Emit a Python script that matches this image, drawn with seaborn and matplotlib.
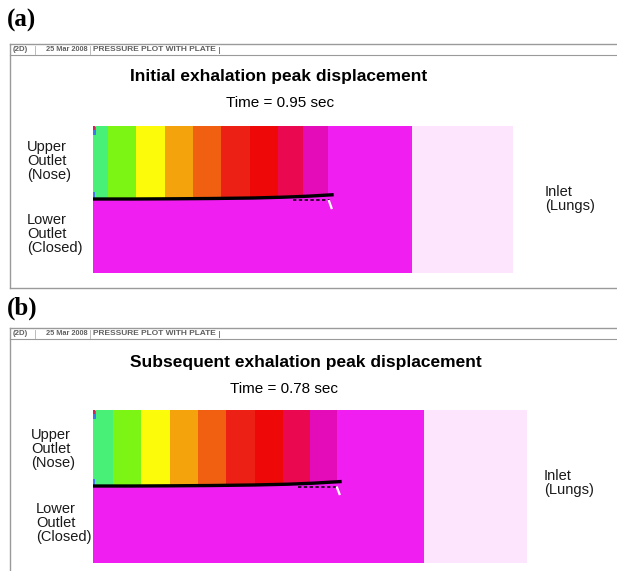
import numpy as np
import matplotlib
matplotlib.use("Agg")
import matplotlib.pyplot as plt
from matplotlib.colors import ListedColormap
import seaborn as sns

# ---- pressure band colours (low -> high), then free-stream magenta and inlet pink
band_colors = ["#48f078", "#7cf514", "#fbfb0a", "#f5a30c", "#f06010",
               "#ec2014", "#ee0808", "#ea0850", "#e40cb8"]
field_color = "#f01ef0"
inlet_color = "#fde6fd"
spot_colors = ["#3a7be8", "#d0205a"]

# ---- panel (a): initial exhalation, t = 0.95 s
title_a = "Initial exhalation peak displacement"
time_a = "Time = 0.95 sec"
band_edges_a = [0, 15, 43, 72, 100, 128, 157, 185, 210, 235]
field_end_a = 319
domain_len_a = 420
domain_h_a = 147
plate_x_a = [0, 40, 80, 120, 160, 190, 215, 239]
plate_y_a = [73.0, 73.0, 72.8, 72.5, 72.0, 71.2, 70.2, 68.8]
rest_x_a = [200, 237]
rest_y_a = [73.8, 73.8]
tip_x_a = [236.0, 238.5]
tip_y_a = [75.0, 82.0]

# ---- panel (b): subsequent exhalation, t = 0.78 s
title_b = "Subsequent exhalation peak displacement"
time_b = "Time = 0.78 sec"
band_edges_b = [0, 20, 48, 77, 105, 133, 162, 190, 217, 244]
field_end_b = 331
domain_len_b = 434
domain_h_b = 153
plate_x_b = [0, 40, 80, 120, 160, 195, 220, 247]
plate_y_b = [76.0, 76.0, 75.8, 75.5, 75.0, 74.2, 73.2, 71.6]
rest_x_b = [205, 244]
rest_y_b = [76.8, 76.8]
tip_x_b = [244.0, 246.5]
tip_y_b = [77.5, 84.0]

W, H = 617, 571
plt.rcParams["font.family"] = ["Liberation Sans", "DejaVu Sans"]
fig = plt.figure(figsize=(W / 100, H / 100), dpi=100)
fig.patch.set_facecolor("white")

# page-level axes in pixel units for frames and annotations
bg = fig.add_axes([0, 0, 1, 1])
bg.set_xlim(0, W)
bg.set_ylim(H, 0)
bg.axis("off")

palette = band_colors + [field_color, inlet_color] + spot_colors
IDX_FIELD = len(band_colors)
IDX_INLET = IDX_FIELD + 1
IDX_BLUE = IDX_FIELD + 2
IDX_RED = IDX_FIELD + 3
cmap = ListedColormap(palette)


def build_field(edges, field_end, length, height, px, py):
    grid = np.full((height, length), IDX_FIELD, dtype=float)
    cols = np.arange(length) + 0.5
    plate_row = np.interp(cols, px, py)
    for k in range(len(edges) - 1):
        for c in range(edges[k], edges[k + 1]):
            grid[: int(round(plate_row[c])), c] = k
    grid[:, field_end:] = IDX_INLET
    # small low-pressure spots at the upper outlet corner
    grid[1:9, 0:3] = IDX_BLUE
    grid[0:4, 0:2] = IDX_RED
    r = int(round(plate_row[0]))
    grid[r - 7:r, 0:2] = IDX_BLUE
    return grid


def draw_field(box, edges, field_end, length, height, px, py, rx, ry, tx, ty):
    x0, y0 = box
    x1, y1 = x0 + length, y0 + height
    ax = fig.add_axes([x0 / W, 1 - y1 / H, (x1 - x0) / W, (y1 - y0) / H])
    grid = build_field(edges, field_end, length, height, px, py)
    sns.heatmap(grid, cmap=cmap, vmin=-0.5, vmax=len(palette) - 0.5,
                cbar=False, xticklabels=False, yticklabels=False,
                linewidths=0, ax=ax)
    sns.lineplot(x=rx, y=ry, color="black", lw=1.1,
                 linestyle=(0, (2.2, 1.6)), ax=ax)
    sns.lineplot(x=px, y=py, color="black", lw=2.4, sort=False, ax=ax)
    sns.lineplot(x=tx, y=ty, color="white", lw=1.6, ax=ax)
    ax.set_xlim(0, length)
    ax.set_ylim(height, 0)
    ax.set_axis_off()
    return ax


def draw_frame(top, bottom, letter, letter_y):
    col = "#9a9a9a"
    bg.plot([10, W + 2], [top, top], color=col, lw=1.0)
    bg.plot([10, W + 2], [top + 11, top + 11], color=col, lw=0.8)
    bg.plot([10, 10], [top, bottom], color=col, lw=1.0)
    if bottom < H:
        bg.plot([10, W + 2], [bottom, bottom], color=col, lw=1.0)
    hy = top + 5.8
    hs = dict(fontweight="bold", color="#606060", va="center", ha="left")
    bg.text(13, hy, "(2D)", fontsize=5.6, **hs)
    bg.plot([35, 35], [top + 1.5, top + 9.5], color="#b0b0b0", lw=0.6)
    bg.text(46, hy, "25 Mar 2008", fontsize=5.3, **hs)
    bg.plot([90, 90], [top + 1.5, top + 9.5], color="#b0b0b0", lw=0.6)
    bg.text(93, hy, "PRESSURE PLOT WITH PLATE", fontsize=6.0, **hs)
    bg.plot([219, 219], [top + 2.5, top + 9], color="#777777", lw=0.7)
    bg.text(7, letter_y, letter, fontsize=18, fontweight="bold",
            family=["Liberation Serif", "DejaVu Serif"], va="center", ha="left")


lab = dict(fontsize=10.5, color="#1a1a1a", va="center", ha="left", linespacing=0.98)

# ---------------- panel (a)
draw_frame(44, 288, "(a)", 20)
bg.text(130, 77, title_a, fontsize=12.5, fontweight="bold", ha="left", va="center")
bg.text(280, 103, time_a, fontsize=11, ha="center", va="center")
bg.text(27, 161, "Upper\nOutlet\n(Nose)", **lab)
bg.text(27, 234, "Lower\nOutlet\n(Closed)", **lab)
bg.text(545, 199, "Inlet\n(Lungs)", **lab)
draw_field((93, 126), band_edges_a, field_end_a,
           domain_len_a, domain_h_a, plate_x_a, plate_y_a,
           rest_x_a, rest_y_a, tip_x_a, tip_y_a)

# ---------------- panel (b)
draw_frame(328, H + 5, "(b)", 308)
bg.text(130, 363, title_b, fontsize=12.5, fontweight="bold", ha="left", va="center")
bg.text(284, 389, time_b, fontsize=11, ha="center", va="center")
bg.text(31, 449, "Upper\nOutlet\n(Nose)", **lab)
bg.text(36, 523, "Lower\nOutlet\n(Closed)", **lab)
bg.text(544, 483, "Inlet\n(Lungs)", **lab)
draw_field((93, 410), band_edges_b, field_end_b,
           domain_len_b, domain_h_b, plate_x_b, plate_y_b,
           rest_x_b, rest_y_b, tip_x_b, tip_y_b)

fig.savefig("out.png", dpi=100, facecolor="white")
